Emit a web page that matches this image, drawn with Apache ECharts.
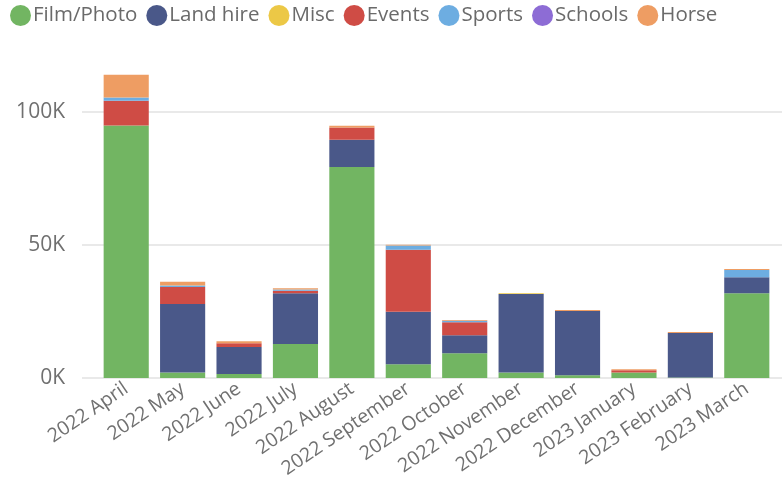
<!DOCTYPE html>
<html>
<head>
<meta charset="utf-8">
<script src="https://cdn.jsdelivr.net/npm/echarts@6/dist/echarts.min.js"></script>
<style>
  html, body { margin: 0; padding: 0; background: #fff; }
  #chart { width: 782px; height: 488px; }
</style>
</head>
<body>
<div id="chart"></div>
<script>
  // months along the x axis
  var months = ['2022 April', '2022 May', '2022 June', '2022 July', '2022 August', '2022 September',
    '2022 October', '2022 November', '2022 December', '2023 January', '2023 February', '2023 March']

  // income per category
  var filmPhoto = [95000, 2100, 1500, 12800, 79400, 5200, 9300, 2100, 1000, 2100, 200, 31900]
  var landHire  = [0, 25700, 10200, 19100, 10200, 19700, 6800, 29500, 24200, 0, 16700, 6000]
  var misc      = [0, 0, 0, 0, 0, 0, 0, 300, 0, 0, 0, 0]
  var events    = [9300, 6400, 1400, 900, 4600, 23300, 4900, 0, 0, 800, 0, 0]
  var sports    = [1200, 600, 0, 500, 0, 1600, 500, 0, 0, 0, 0, 2700]
  var schools   = [0, 0, 0, 0, 0, 0, 0, 0, 0, 0, 0, 0]
  var horse     = [8600, 1400, 700, 500, 700, 300, 300, 0, 400, 400, 400, 400]

  var seriesNames = ['Film/Photo', 'Land hire', 'Misc', 'Events', 'Sports', 'Schools', 'Horse']
  var seriesData = [filmPhoto, landHire, misc, events, sports, schools, horse]
  var colors = ['#72b562', '#4a5889', '#ecc846', '#cf4c45', '#6dade1', '#8d6cd5', '#ee9d63']

  var font = 'Open Sans'
  var textColor = '#6a6a6a'
  var gridTop = 59, gridBottom = 110

  var chart = echarts.init(document.getElementById('chart'))
  chart.setOption({
    backgroundColor: '#fff',
    animation: false,
    color: colors,
    legend: {
      data: seriesNames,
      left: 5,
      top: 0,
      icon: 'circle',
      itemWidth: 21,
      itemHeight: 21,
      itemGap: 9,
      textStyle: { fontFamily: font, fontSize: 20.5, color: textColor, padding: [0, 0, 0, -3] }
    },
    grid: [
      { left: 82, right: 0, top: gridTop, bottom: gridBottom },
      { left: 98, right: 7, top: gridTop, bottom: gridBottom }
    ],
    xAxis: [
      { type: 'value', gridIndex: 0, min: 0, max: 1, show: false },
      {
        type: 'category',
        gridIndex: 1,
        data: months,
        axisLine: { show: false },
        axisTick: { show: false },
        axisLabel: {
          rotate: 34,
          margin: 9,
          interval: 0,
          fontFamily: font,
          fontSize: 19.5,
          color: '#707070'
        }
      }
    ],
    yAxis: [
      {
        type: 'value',
        gridIndex: 0,
        min: 0,
        max: 120000,
        interval: 50000,
        axisLine: { show: false },
        axisTick: { show: false },
        splitLine: { showMaxLine: false, lineStyle: { color: '#e9e9e9', width: 2 } },
        axisLabel: {
          showMaxLabel: false,
          margin: 17,
          fontFamily: font,
          fontSize: 21,
          color: '#707070',
          formatter: function (v) { return (v / 1000) + 'K' }
        }
      },
      { type: 'value', gridIndex: 1, min: 0, max: 120000, show: false }
    ],
    series: seriesNames.map(function (name, i) {
      return {
        name: name,
        type: 'bar',
        stack: 'total',
        xAxisIndex: 1,
        yAxisIndex: 1,
        barCategoryGap: '20%',
        data: seriesData[i]
      }
    })
  })
</script>
</body>
</html>
